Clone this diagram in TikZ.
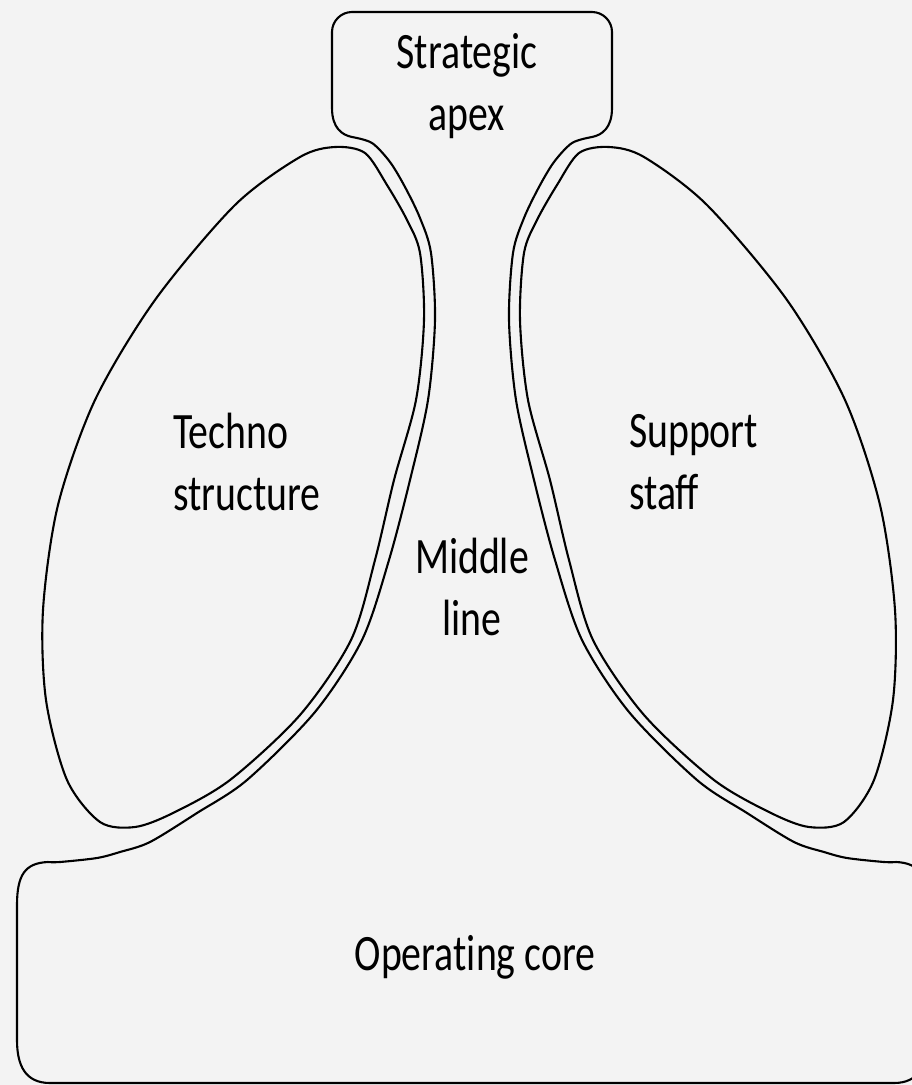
\documentclass[tikz,border=0pt]{standalone}
\usepackage{fontspec}
\newfontfamily\lblfont[FakeStretch=0.78]{Carlito}
\newfontfamily\corefont[FakeStretch=0.78,Ligatures=NoCommon]{Carlito}
\definecolor{bg}{RGB}{243,243,243}
\begin{document}
\begin{tikzpicture}[x=1pt,y=-1pt,line width=2.1pt,line join=round,
  part/.style={draw=black,fill=bg},
  lbl/.style={font=\lblfont\fontsize{51}{62}\selectfont,inner sep=0pt,text=black}]
\fill[bg] (0,0) rectangle (912,1085);
\useasboundingbox (0,0) rectangle (912,1085);
% strategic apex + middle line + operating core
\draw[part] (332,108) -- (332,32) .. controls (332,21) and (341,12) .. (352,12)
  -- (592,12) .. controls (603,12) and (612,21) .. (612,32) -- (612,108)
  .. controls (612,128) and (602,135) .. (592,137)
  -- plot[smooth] coordinates {(592,137) (572,143) (554,162) (539,187) (524,218) (513,253) (509,320) (516,400) (534,480) (555,560) (582,640) (629,712) (697,780) (747,813) (794,842) (824,852) (847,858) (884,862) (896,862)}
  .. controls (919,863) and (927,875) .. (927,905) -- (927,1040)
  .. controls (927,1065) and (919,1083) .. (894,1083) -- (50,1083)
  .. controls (25,1083) and (17,1065) .. (17,1040) -- (17,905)
  .. controls (17,875) and (25,863) .. (48,862)
  -- plot[smooth] coordinates {(48,862) (60,862) (97,858) (120,852) (150,842) (197,813) (247,780) (315,712) (362,640) (389,560) (410,480) (428,400) (435,320) (431,253) (420,218) (405,187) (390,162) (372,143) (352,137)}
  .. controls (342,135) and (332,128) .. (332,108) -- cycle;
% technostructure
\draw[part] plot[smooth cycle] coordinates {(335,147) (365,153) (387,185) (407,220) (420,253) (424,320) (416,400) (394,480) (375,560) (351,640) (300,715) (230,780) (173,813) (135,827) (100,822) (67,780) (46,700) (43,610) (58,505) (95,400) (155,300) (235,205) (300,157)};
% support staff
\draw[part] plot[smooth cycle] coordinates {(609,147) (579,153) (557,185) (537,220) (524,253) (520,320) (528,400) (550,480) (569,560) (593,640) (644,715) (714,780) (771,813) (809,827) (844,822) (874,780) (893,700) (895,610) (880,505) (845,400) (787,300) (707,205) (644,157)};
% labels
\node[lbl,align=center] (apex) at (467,86) {Strategic\\apex};
\node[lbl,align=left,anchor=west] (techno) at (172,462) {Techno\\structure};
\node[lbl,align=left,anchor=west] (support) at (628,462) {Support\\staff};
\node[lbl,align=center] (middle) at (472,587) {Middle\\line};
\node[lbl,font=\corefont\fontsize{51}{62}\selectfont] (core) at (475,957) {Operating core};
\end{tikzpicture}
\end{document}
